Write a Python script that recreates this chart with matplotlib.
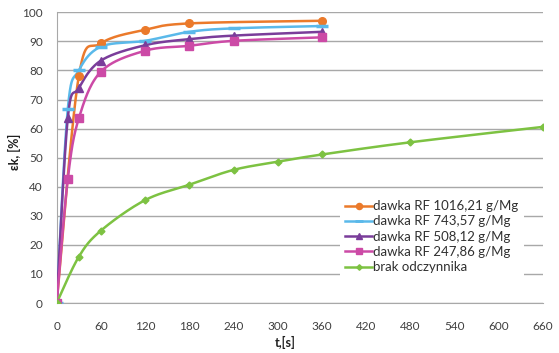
import numpy as np
import matplotlib
matplotlib.use("Agg")
import matplotlib.pyplot as plt

plt.rcParams['font.family'] = ['Lato', 'DejaVu Sans']

# ---- data ----
t_1016 = [0, 30, 60, 120, 180, 360]
e_1016 = [0, 78.0, 89.3, 94.0, 96.2, 97.1]

t_743 = [0, 15, 30, 60, 120, 180, 240, 360]
e_743 = [0, 66.6, 80.0, 88.2, 90.2, 93.3, 94.5, 95.3]

t_508 = [0, 15, 30, 60, 120, 180, 240, 360]
e_508 = [0, 63.5, 73.9, 83.4, 88.7, 90.8, 92.0, 93.3]

t_247 = [0, 15, 30, 60, 120, 180, 240, 360]
e_247 = [0, 42.5, 63.5, 79.6, 86.8, 88.5, 90.2, 91.4]

t_brak = [0, 30, 60, 120, 180, 240, 300, 360, 480, 660]
e_brak = [0, 15.9, 24.9, 35.4, 40.7, 45.8, 48.6, 51.1, 55.3, 60.6]

labels = ["dawka RF 1016,21 g/Mg", "dawka RF 743,57 g/Mg",
          "dawka RF 508,12 g/Mg", "dawka RF 247,86 g/Mg", "brak odczynnika"]
colors = ["#EB7A2B", "#5AB9EA", "#7A3D9A", "#CC4AA6", "#7DC242"]
markers = ["o", "_", "^", "s", "D"]
msizes = [5.5, 8, 6, 6, 3.5]
x_ticks = list(range(0, 661, 60))
y_ticks = list(range(0, 101, 10))


def smooth(x, y, n=30):
    """Excel-like smoothed line (Catmull-Rom Bezier)."""
    P = np.column_stack([x, y]).astype(float)
    out = []
    for i in range(len(P) - 1):
        p0 = P[i - 1] if i > 0 else P[i]
        p1 = P[i]
        p2 = P[i + 1]
        p3 = P[i + 2] if i + 2 < len(P) else P[i + 1]
        c1 = p1 + (p2 - p0) / 6.0
        c2 = p2 - (p3 - p1) / 6.0
        s = np.linspace(0, 1, n)[:, None]
        seg = ((1 - s) ** 3) * p1 + 3 * ((1 - s) ** 2) * s * c1 + 3 * (1 - s) * s ** 2 * c2 + s ** 3 * p2
        out.append(seg if i == 0 else seg[1:])
    A = np.vstack(out)
    return A[:, 0], A[:, 1]


fig = plt.figure(figsize=(5.59, 3.53), dpi=100)
ax = fig.add_axes([0.1014, 0.1416, 0.8700, 0.8234])

series = [(t_1016, e_1016), (t_743, e_743), (t_508, e_508), (t_247, e_247), (t_brak, e_brak)]
handles = []
for (tx, ey), lab, c, m, ms in zip(series, labels, colors, markers, msizes):
    sx, sy = smooth(tx, ey)
    ax.plot(sx, sy, color=c, lw=1.8, zorder=3)
    ax.plot(tx, ey, linestyle='none', marker=m, color=c, ms=ms,
            mew=2.5 if m == '_' else 1, zorder=4)
    h, = ax.plot([], [], color=c, lw=1.8, marker=m, ms=ms * 0.8,
                 mew=2 if m == '_' else 1, label=lab)
    handles.append(h)

ax.set_xlim(0, 660)
ax.set_ylim(0, 100)
ax.set_xticks(x_ticks)
ax.set_yticks(y_ticks)
ax.tick_params(axis='both', length=0, labelsize=8.5, labelcolor='#404040')
ax.tick_params(axis='x', pad=13)
ax.tick_params(axis='y', pad=10)
ax.grid(axis='y', color='#A8A8A8', lw=1)
ax.set_axisbelow(True)
for s in ['top', 'right']:
    ax.spines[s].set_visible(False)
ax.spines['left'].set_color('#A8A8A8')
ax.spines['bottom'].set_color('#A8A8A8')

ax.set_xlabel("t,[s]", fontsize=9, fontweight='bold', color='#202020')
ax.xaxis.set_label_coords(0.469, -0.115)
ax.set_ylabel("εk, [%]", fontsize=9, fontweight='bold', color='#202020')
ax.yaxis.set_label_coords(-0.073, 0.52)

leg = ax.legend(handles=handles, loc='upper left', bbox_to_anchor=(0.583, 0.372),
                fontsize=9.5, frameon=True, facecolor='white', edgecolor='none',
                framealpha=1, handlelength=2.0, handletextpad=0.1,
                labelspacing=0.25, borderpad=0.4, borderaxespad=0)
for txt in leg.get_texts():
    txt.set_color('#303030')
leg.set_zorder(5)

fig.savefig("out.png", dpi=100)
